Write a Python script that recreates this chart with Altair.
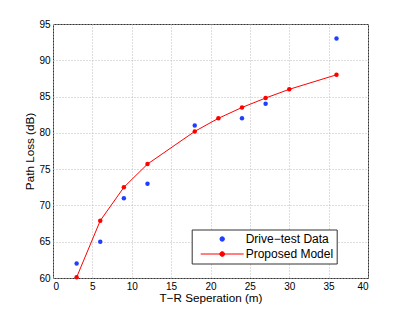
import altair as alt
import pandas as pd

drive_x = [3, 6, 9, 12, 18, 24, 27, 36]
drive_y = [62, 65, 71, 73, 81, 82, 84, 93]
model_x = [3, 6, 9, 12, 18, 21, 24, 27, 30, 36]
model_y = [60.1, 67.9, 72.5, 75.7, 80.2, 82.0, 83.5, 84.8, 86.0, 88.0]
series_names = ["Drive\u2212test Data", "Proposed Model"]
colors = ["#1f3fff", "#ff0000"]

df = pd.DataFrame(
    {"x": drive_x + model_x,
     "y": drive_y + model_y,
     "series": [series_names[0]] * len(drive_x) + [series_names[1]] * len(model_x)}
)

FONT = "Liberation Sans"

xenc = alt.X("x:Q", scale=alt.Scale(domain=[0, 40], nice=False),
             axis=alt.Axis(values=list(range(0, 41, 5)), title="T\u2212R Seperation (m)"))
yenc = alt.Y("y:Q", scale=alt.Scale(domain=[60, 95], nice=False, zero=False),
             axis=alt.Axis(values=list(range(60, 96, 5)), title="Path Loss (dB)"))

line_path = "M-1,0H1M0.11,0A0.11,0.11 0 1,1 -0.11,0A0.11,0.11 0 1,1 0.11,0Z"
is_model = "datum.value == 'Proposed Model'"

color = alt.Color(
    "series:N",
    scale=alt.Scale(domain=series_names, range=colors),
    legend=alt.Legend(
        title=None, orient="none", legendX=138.7, legendY=205.5,
        fillColor="white", strokeColor="#333333", padding=3.5,
        labelFont=FONT, labelFontSize=12, labelColor="black",
        rowPadding=3, labelOffset=17.5, labelLimit=300, symbolOffset=21,
        symbolStrokeWidth=1,
        labelExpr="datum.label + '      '",
        symbolSize={"expr": is_model + " ? 1849 : 20"},
        symbolType={"expr": is_model + " ? '" + line_path + "' : 'circle'"},
        symbolFillColor={"expr": is_model + " ? '#ff0000' : '#1f3fff'"},
        symbolStrokeColor={"expr": is_model + " ? '#ff0000' : '#1f3fff'"},
    ),
)

base = alt.Chart(df).encode(x=xenc, y=yenc, color=color)

points = base.transform_filter(alt.datum.series == series_names[0]).mark_point(
    filled=True, size=20, opacity=1, shape="circle"
)
line = base.transform_filter(alt.datum.series == series_names[1]).mark_line(
    strokeWidth=1, point=alt.OverlayMarkDef(filled=True, size=20, opacity=1)
)

chart = (
    alt.layer(line, points)
    .properties(width=315, height=254, autosize=alt.AutoSizeParams(type="none"),
                padding={"left": 45, "top": 16, "right": 30, "bottom": 30})
    .configure_view(stroke="#333333", strokeWidth=1)
    .configure_axis(
        grid=True, gridColor="#bdbdbd", gridDash=[1, 2], gridWidth=1,
        domain=False, ticks=False,
        labelFont=FONT, labelFontSize=10, labelColor="black",
        titleFont=FONT, titleFontSize=11.7, titleColor="black", titleFontWeight="normal",
    )
    .configure_axisX(labelPadding=3, titlePadding=1)
    .configure_axisY(labelPadding=3, titlePadding=3)
)

chart.save("out.html", embed_options={"renderer": "svg", "actions": False})
